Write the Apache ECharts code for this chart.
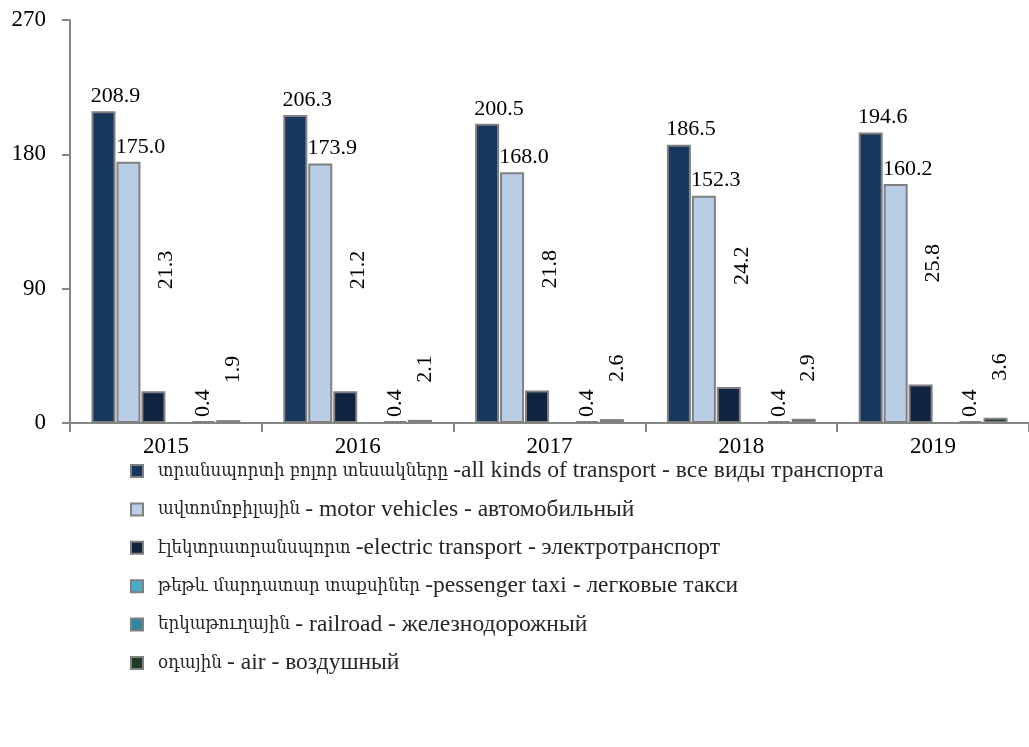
<!DOCTYPE html>
<html>
<head>
<meta charset="utf-8">
<script src="https://cdn.jsdelivr.net/npm/echarts@6/dist/echarts.min.js"></script>
<style>
html,body{margin:0;padding:0;background:#fff;}
#c{width:1029px;height:747px;}
</style>
</head>
<body>
<div id="c"></div>
<script>
const years = ['2015', '2016', '2017', '2018', '2019'];
const seriesNames = [
  'տրանսպորտի բոլոր տեսակները -all kinds of transport - все виды транспорта',
  'ավտոմոբիլային - motor vehicles - автомобильный',
  'էլեկտրատրանսպորտ -electric transport - электротранспорт',
  'թեթև մարդատար տաքսիներ -pessenger taxi - легковые такси',
  'երկաթուղային - railroad - железнодорожный',
  'օդային - air - воздушный'
];
const allKinds = [208.9, 206.3, 200.5, 186.5, 194.6];
const motorVehicles = [175.0, 173.9, 168.0, 152.3, 160.2];
const electricTransport = [21.3, 21.2, 21.8, 24.2, 25.8];
const passengerTaxi = [null, null, null, null, null];
const railroad = [0.4, 0.4, 0.4, 0.4, 0.4];
const air = [1.9, 2.1, 2.6, 2.9, 3.6];
const yTicks = [0, 90, 180, 270];

const colors = ['#17375E', '#B9CDE5', '#10233F', '#4BACC6', '#31859C', '#1F3A24'];
const FONT = '"Liberation Serif", "DejaVu Serif", serif';

function fmt(p) { return p.value == null ? '' : Number(p.value).toFixed(1); }

const labelBase = { show: true, color: '#000', fontFamily: FONT, fontSize: 22, formatter: fmt };
const labelH = Object.assign({}, labelBase, { position: 'top', distance: 4, offset: [12, 0] });
function labelV(dist, off) {
  return Object.assign({}, labelBase, { position: 'top', rotate: 90, align: 'left', verticalAlign: 'middle', distance: dist, offset: off });
}

const dataSets = [allKinds, motorVehicles, electricTransport, passengerTaxi, railroad, air];
const labels = [labelH, labelH, labelV(98, [4, 13]), { show: false }, labelV(4, [0, 0]), labelV(32, [5, 5])];

const series = dataSets.map((d, i) => ({
  name: seriesNames[i],
  type: 'bar',
  data: d,
  barWidth: 24,
  barGap: '4%',
  barMinHeight: 2,
  z: 3,
  itemStyle: { color: colors[i], borderColor: '#808080', borderWidth: 2 },
  label: labels[i]
}));

function legendFmt(name) {
  const m = name.match(/^([\u0530-\u058F\s]+)(.*)$/);
  if (!m) return '{b|' + name + '}';
  return '{a|' + m[1] + '}{b|' + m[2] + '}';
}

const chart = echarts.init(document.getElementById('c'), null, { renderer: 'canvas' });
chart.setOption({
  animation: false,
  backgroundColor: '#fff',
  grid: { left: 70, top: 20, right: -11, bottom: 324, containLabel: false },
  legend: {
    orient: 'vertical',
    left: 125,
    top: 454,
    itemWidth: 12,
    itemHeight: 12,
    itemGap: 14.4,
    icon: 'rect',
    selectedMode: false,
    formatter: legendFmt,
    textStyle: {
      fontFamily: FONT, fontSize: 20, color: '#262626', lineHeight: 22, padding: [0, 0, 0, 10],
      rich: {
        a: { fontFamily: '"DejaVu Serif Condensed", "DejaVu Serif", serif', fontSize: 18.5, color: '#262626', lineHeight: 22 },
        b: { fontFamily: '"Liberation Serif", serif', fontSize: 23.5, color: '#262626', lineHeight: 22 }
      }
    },
    data: seriesNames
  },
  xAxis: {
    type: 'category',
    data: years,
    axisLine: { lineStyle: { color: '#868686', width: 2 } },
    axisTick: { show: true, length: 9, lineStyle: { color: '#868686', width: 2 } },
    axisLabel: { color: '#000', fontFamily: FONT, fontSize: 23, margin: 12 },
    splitLine: { show: false }
  },
  yAxis: {
    type: 'value',
    min: yTicks[0],
    max: yTicks[yTicks.length - 1],
    interval: 90,
    axisLine: { show: true, lineStyle: { color: '#868686', width: 2 } },
    axisTick: { show: true, length: 8, lineStyle: { color: '#868686', width: 2 } },
    axisLabel: { color: '#000', fontFamily: FONT, fontSize: 23, margin: 24 },
    splitLine: { show: false }
  },
  series: series
});
</script>
</body>
</html>
